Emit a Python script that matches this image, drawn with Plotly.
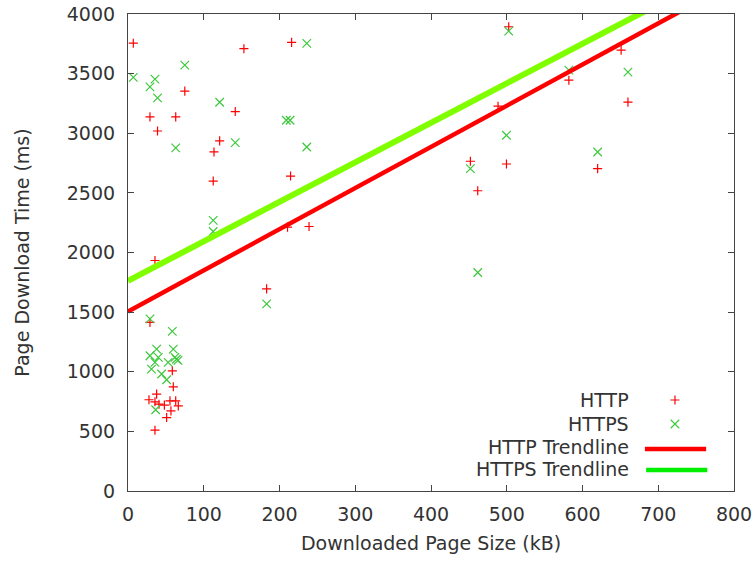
import plotly.graph_objects as go

# Page size (kB) and download time (ms) samples
http_size = [7, 153, 216, 75, 141.6, 29, 63, 39, 121, 113.5, 112.5, 214.6, 35.6,
             210.6, 239, 183, 502.6, 582, 651, 660, 488.5, 452, 499.6, 461.7, 620,
             29, 58.5, 59.8, 37.8, 27.7, 35.6, 40.9, 48, 55.4, 63, 66.4, 56.7, 51, 35.6]
http_time = [3755, 3709, 3762, 3353, 3182, 3137, 3137, 3019, 2936, 2843, 2599, 2641, 1933,
             2213, 2218, 1695, 3893, 3445, 3697, 3261, 3227, 2765, 2742, 2518, 2703,
             1414, 1008, 874, 812, 765, 748, 728, 720, 756, 756, 714, 672, 616, 510]

https_size = [7, 35.6, 29, 39, 75, 121, 209, 214, 63, 141.6, 236, 236, 112.5, 112.5,
              183, 502.6, 582, 660, 499.6, 452, 620, 461.7, 29, 58.5, 37.8, 59.8, 29,
              40, 62, 64, 66, 53, 35.6, 31, 44.4, 51, 36.5]
https_time = [3468, 3454, 3389, 3297, 3571, 3260, 3109, 3109, 2877, 2922, 3754, 2885,
              2269, 2176, 1569, 3857, 3529, 3513, 2983, 2703, 2843, 1832, 1443, 1339,
              1190, 1190, 1134, 1120, 1120, 1105, 1095, 1078, 1078, 1022, 981, 933, 681]

# Linear trendlines: time = intercept + slope * size
http_intercept, http_slope = 1505, 3.452
https_intercept, https_slope = 1762, 3.314
trend_x = [0, 800]

x_ticks = [0, 100, 200, 300, 400, 500, 600, 700, 800]
y_ticks = [0, 500, 1000, 1500, 2000, 2500, 3000, 3500, 4000]

legend_labels = ["HTTP", "HTTPS", "HTTP Trendline", "HTTPS Trendline"]

RED = "#ff0000"
PT_GREEN = "#3cc83c"
LINE_GREEN = "#80ff00"
KEY_GREEN = "#00ee00"
FONT = "DejaVu Sans"
TEXT = "#333333"
FS = 19

fig = go.Figure()

fig.add_trace(go.Scatter(
    x=http_size, y=http_time, mode="markers", name="HTTP", showlegend=False,
    marker=dict(symbol="cross-thin", size=6.5, line=dict(color=RED, width=1.2), color=RED),
))
fig.add_trace(go.Scatter(
    x=https_size, y=https_time, mode="markers", name="HTTPS", showlegend=False,
    marker=dict(symbol="x-thin", size=8.5, line=dict(color=PT_GREEN, width=1.2), color=PT_GREEN),
))
fig.add_trace(go.Scatter(
    x=trend_x, y=[http_intercept + http_slope * v for v in trend_x], mode="lines",
    name="HTTP Trendline", showlegend=False, line=dict(color=RED, width=4.5),
))
fig.add_trace(go.Scatter(
    x=trend_x, y=[https_intercept + https_slope * v for v in trend_x], mode="lines",
    name="HTTPS Trendline", showlegend=False, line=dict(color=LINE_GREEN, width=6),
))

# Key in the lower right: text right-aligned, sample to its right
key_rows = [0.1908, 0.1405, 0.0922, 0.0461]
key_text_x = 0.830
key_sample_x = 0.9026
for label, row in zip(legend_labels, key_rows):
    fig.add_annotation(
        xref="paper", yref="paper", x=key_text_x, y=row, text=label,
        showarrow=False, xanchor="right", yanchor="middle",
        font=dict(family=FONT, size=FS, color=TEXT),
    )
fig.add_trace(go.Scatter(
    x=[key_sample_x], y=[key_rows[0]], xaxis="x2", yaxis="y2", mode="markers",
    showlegend=False, hoverinfo="skip",
    marker=dict(symbol="cross-thin", size=6.5, line=dict(color=RED, width=1.2)),
))
fig.add_trace(go.Scatter(
    x=[key_sample_x], y=[key_rows[1]], xaxis="x2", yaxis="y2", mode="markers",
    showlegend=False, hoverinfo="skip",
    marker=dict(symbol="x-thin", size=8.5, line=dict(color=PT_GREEN, width=1.2)),
))
fig.add_shape(type="line", xref="paper", yref="paper", x0=0.853, x1=0.954,
              y0=key_rows[2] - 0.004, y1=key_rows[2] - 0.004, line=dict(color=RED, width=4.5))
fig.add_shape(type="line", xref="paper", yref="paper", x0=0.855, x1=0.956,
              y0=key_rows[3] - 0.002, y1=key_rows[3] - 0.002, line=dict(color=KEY_GREEN, width=4.5))

axis_common = dict(
    showline=True, linecolor="#444444", linewidth=1.2, mirror="allticks",
    ticks="inside", ticklen=6, tickcolor="#444444", tickwidth=1,
    showgrid=False, zeroline=False, automargin=False,
    tickfont=dict(family=FONT, size=FS, color=TEXT),
)

fig.update_layout(
    width=754, height=561,
    margin=dict(l=128, r=20, t=14, b=70),
    paper_bgcolor="white", plot_bgcolor="white",
    font=dict(family=FONT, size=FS, color=TEXT),
    xaxis=dict(range=[0, 800], tickvals=x_ticks, ticklabelstandoff=6,
               title=dict(text="Downloaded Page Size (kB)", standoff=12,
                          font=dict(family=FONT, size=FS, color=TEXT)),
               **axis_common),
    yaxis=dict(range=[0, 4000], tickvals=y_ticks, ticklabelstandoff=8,
               title=dict(text="Page Download Time (ms)", standoff=32,
                          font=dict(family=FONT, size=FS, color=TEXT)),
               **axis_common),
    xaxis2=dict(range=[0, 1], overlaying="x", visible=False, anchor="y2"),
    yaxis2=dict(range=[0, 1], overlaying="y", visible=False, anchor="x2"),
    showlegend=False,
)

fig.write_html("out.html")
